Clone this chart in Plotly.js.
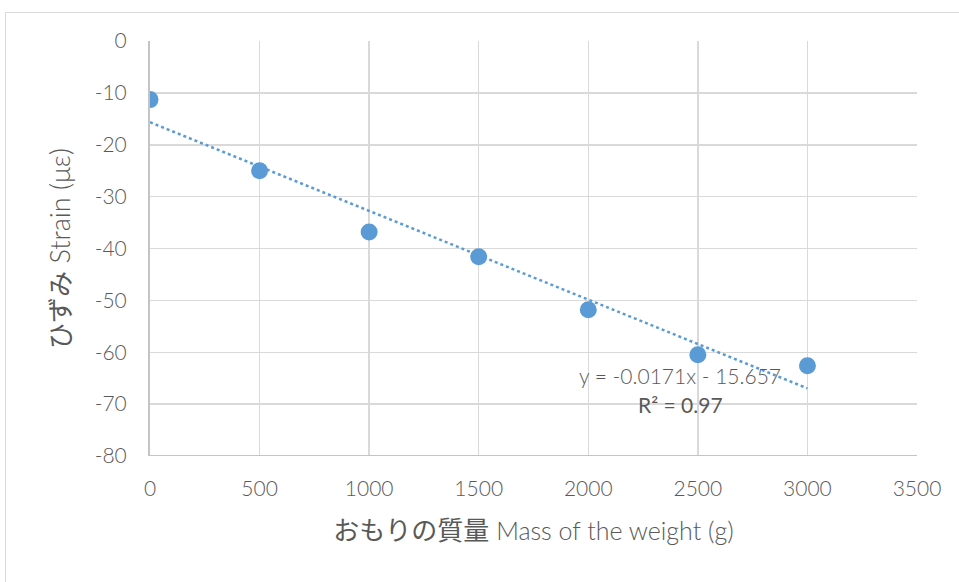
<!DOCTYPE html>
<html>
<head>
<meta charset="utf-8">
<script src="https://cdn.plot.ly/plotly-3.0.1.min.js"></script>
<style>
  html, body { margin: 0; padding: 0; background: #fff; }
  #frame { position: absolute; left: 5px; top: 12px; width: 980px; height: 600px; border: 1.5px solid #d9d9d9; box-sizing: border-box; }
  #chart { position: absolute; left: 0; top: 0; width: 959px; height: 582px; }
</style>
</head>
<body>
<div id="frame"></div>
<div id="chart"></div>
<script>
// Data
const massG = [0, 500, 1000, 1500, 2000, 2500, 3000];
const strain = [-11.3, -25.0, -36.8, -41.6, -51.8, -60.5, -62.6];
// Trendline coefficients (as shown on the chart)
const slope = -0.0171;
const intercept = -15.657;
const rSquared = 0.97;
const xTicks = [0, 500, 1000, 1500, 2000, 2500, 3000, 3500];
const yTicks = [0, -10, -20, -30, -40, -50, -60, -70, -80];

const trendX = [massG[0], massG[massG.length - 1]];
const trendY = trendX.map(x => slope * x + intercept);

const tickFont = { family: 'Lato, "Open Sans", sans-serif', size: 21, color: '#595959', weight: 300 };

const traces = [
  {
    x: trendX, y: trendY, mode: 'lines', type: 'scatter',
    line: { color: '#5b9bd5', width: 2.5, dash: 'dot' },
    hoverinfo: 'skip', showlegend: false
  },
  {
    x: massG, y: strain, mode: 'markers', type: 'scatter',
    marker: { color: '#5b9bd5', size: 17 },
    showlegend: false
  }
];

const layout = {
  width: 959, height: 582,
  margin: { l: 150, r: 42, t: 41, b: 126 },
  paper_bgcolor: 'rgba(0,0,0,0)', plot_bgcolor: '#fff',
  showlegend: false,
  xaxis: {
    range: [0, 3500], tickvals: xTicks, ticktext: xTicks.map(String),
    showgrid: true, gridcolor: '#d9d9d9', gridwidth: 1.5,
    zeroline: false, showline: false, ticks: '', tickfont: tickFont,
    ticklabelstandoff: 18,
    title: {
      text: '<span style="font-family:\'Noto Sans CJK JP\';font-weight:400;font-size:26px">おもりの質量</span> Mass of the weight (g)',
      font: { family: 'Lato, "Noto Sans CJK JP", sans-serif', size: 25, color: '#595959', weight: 300 },
      standoff: 23
    }
  },
  yaxis: {
    range: [-80, 0], tickvals: yTicks, ticktext: yTicks.map(String),
    showgrid: true, gridcolor: '#d9d9d9', gridwidth: 1.5,
    zeroline: false, showline: true, linecolor: '#c4c4c4', linewidth: 2,
    ticks: '', tickfont: tickFont, ticklabelstandoff: 17,
    title: {
      text: '<span style="font-family:\'Noto Sans CJK JP\';font-weight:400;font-size:26px">ひずみ</span> Strain (με)',
      font: { family: 'Lato, "Noto Sans CJK JP", sans-serif', size: 27, color: '#595959', weight: 300 },
      standoff: 16
    }
  },
  shapes: [
    { type: 'line', xref: 'paper', yref: 'y', x0: 0, x1: 1, y0: -80, y1: -80, line: { color: '#c4c4c4', width: 2 } }
  ],
  annotations: [
    {
      x: 2420, y: -64.5, xref: 'x', yref: 'y', showarrow: false,
      text: 'y = ' + slope + 'x - ' + Math.abs(intercept),
      font: { family: 'Lato, "Open Sans", sans-serif', size: 21, color: '#595959', weight: 300 }
    },
    {
      x: 2420, y: -70.0, xref: 'x', yref: 'y', showarrow: false,
      text: 'R² = ' + rSquared,
      font: { family: 'Lato, "Open Sans", sans-serif', size: 21, color: '#595959', weight: 400 }
    }
  ]
};

Plotly.newPlot('chart', traces, layout, { displayModeBar: false, staticPlot: true });
</script>
</body>
</html>
